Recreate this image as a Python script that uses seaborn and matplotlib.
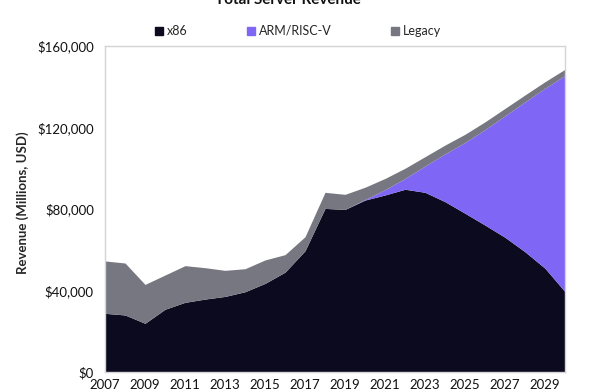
import numpy as np
import pandas as pd
import seaborn as sns
import matplotlib.pyplot as plt
from matplotlib.lines import Line2D
from matplotlib.ticker import FuncFormatter

# 数据：服务器总收入（百万美元）
years = list(range(2007, 2031))
x86 = [28800, 28000, 23900, 30800, 34200, 35800, 37100, 39400, 43500, 49000,
       59500, 80300, 79800, 84400, 86900, 89700, 88200, 83600, 77900, 72100,
       66100, 59000, 50900, 39400]
arm = [0, 0, 0, 0, 0, 0, 0, 0, 0, 0,
       0, 0, 0, 300, 2600, 5300, 12900, 23500, 34800, 46900,
       59700, 73600, 88400, 106200]
legacy = [25700, 25500, 19100, 16800, 18000, 15400, 12800, 11300, 11500, 8600,
          6900, 7900, 7400, 6000, 5500, 5000, 4600, 4300, 4000, 3800,
          3600, 3400, 3200, 3000]
series = ['x86', 'ARM/RISC-V', 'Legacy']
colors = ['#0b0a1f', '#8066f5', '#767780']

df = pd.DataFrame({'year': years, 'x86': x86, 'ARM/RISC-V': arm, 'Legacy': legacy})

sns.set_theme(style='white')
plt.rcParams['font.family'] = ['Lato', 'DejaVu Sans']

fig = plt.figure(figsize=(6, 3.92), dpi=100)
ax = fig.add_axes([0.175, 0.051, 0.7667, 0.8316])

ax.stackplot(df['year'], [df[s] for s in series], colors=colors, linewidth=0)
ax.set_xlim(2007, 2030)
ax.set_ylim(0, 160000)
ax.set_xticks(range(2007, 2030, 2))
ax.set_yticks(range(0, 160001, 40000))
ax.yaxis.set_major_formatter(FuncFormatter(lambda v, p: '${:,.0f}'.format(v)))
ax.tick_params(axis='both', length=0, labelsize=9.5, colors='#111111')
ax.tick_params(axis='x', pad=5)
ax.tick_params(axis='y', pad=8)
for sp in ax.spines.values():
    sp.set_color('#d4d4d4')
    sp.set_linewidth(1)

ax.set_ylabel('Revenue (Millions, USD)', fontsize=9.5, fontweight='bold')
ax.yaxis.set_label_coords(-0.165, 0.52)
fig.text(0.48, 1.0, 'Total Server Revenue', ha='center', va='center',
         fontsize=11, fontweight='bold', color='#111111')

handles = [Line2D([], [], marker='s', linestyle='', markersize=6, color=c) for c in colors]
fig.legend(handles, series, loc='center', bbox_to_anchor=(0.495, 0.921), ncol=3,
           frameon=False, fontsize=9, handletextpad=0.1, columnspacing=4.6,
           handlelength=1.0)

fig.savefig('out.png', dpi=100)
